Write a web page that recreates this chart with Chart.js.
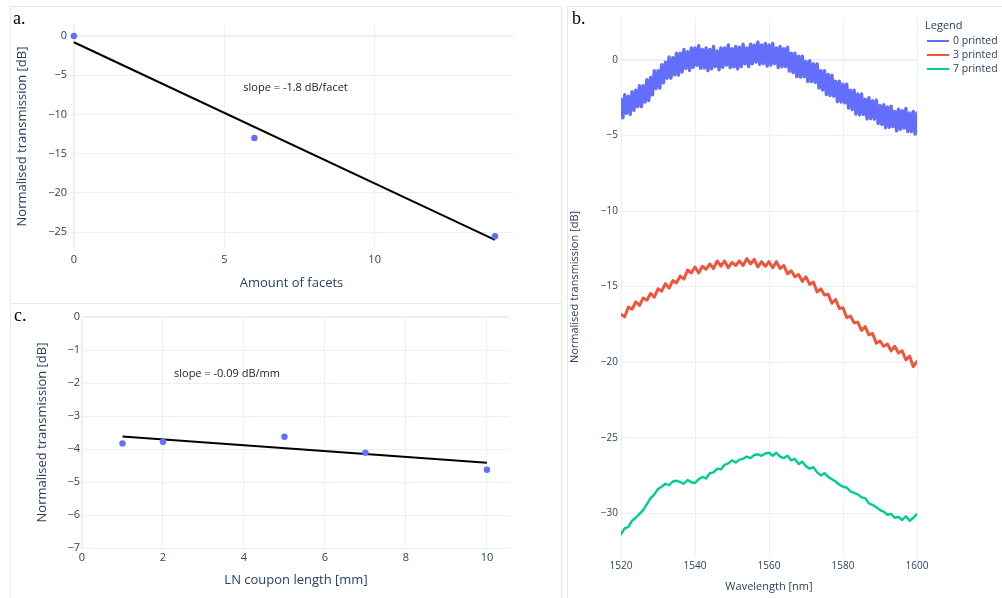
<!DOCTYPE html>
<html><head><meta charset="utf-8">
<script src="https://cdn.jsdelivr.net/npm/chart.js@4.4.0/dist/chart.umd.min.js"></script>
<style>
html,body{margin:0;padding:0;background:#fff;width:1002px;height:598px;overflow:hidden;}
.frame{position:absolute;border:1px solid #e8e8e8;box-sizing:border-box;}
.pl{position:absolute;font-family:"Liberation Serif","Times New Roman",serif;font-size:18px;color:#000;line-height:1;}
canvas{position:absolute;}
</style></head><body>
<div class="frame" style="left:10px;top:6px;width:552px;height:298px"></div>
<div class="frame" style="left:10px;top:303px;width:552px;height:300px"></div>
<div class="frame" style="left:567px;top:6px;width:440px;height:600px"></div>
<canvas id="ca" width="560" height="300" style="left:0;top:0"></canvas>
<canvas id="cc" width="560" height="298" style="left:0;top:300px"></canvas>
<canvas id="cb" width="435" height="598" style="left:567px;top:0"></canvas>
<div class="pl" style="left:13px;top:9px">a.</div>
<div class="pl" style="left:14px;top:306px">c.</div>
<div class="pl" style="left:572px;top:9px">b.</div>
<script>
// ---------- Panel a: loss vs number of facets ----------
const facets = [0, 6, 14];
const facetLoss = [0, -13.0, -25.55];
const facetFitX = [0, 14];
const facetFitY = [-0.8, -26.0];
const facetNote = {x: 7.37, y: -6.63, text: 'slope = -1.8 dB/facet'};

// ---------- Panel c: loss vs LN coupon length ----------
const couponLength = [1, 2, 5, 7, 10];
const couponLoss = [-3.83, -3.78, -3.63, -4.11, -4.63];
const couponFitX = [1, 10];
const couponFitY = [-3.62, -4.42];
const couponNote = {x: 3.58, y: -1.73, text: 'slope = -0.09 dB/mm'};

// ---------- Panel b: spectra ----------
const seriesNames = ['0 printed', '3 printed', '7 printed'];
const wavelengthHalf = [1520,1520.5,1521,1521.5,1522,1522.5,1523,1523.5,1524,1524.5,1525,1525.5,1526,1526.5,1527,1527.5,1528,1528.5,1529,1529.5,
1530,1530.5,1531,1531.5,1532,1532.5,1533,1533.5,1534,1534.5,1535,1535.5,1536,1536.5,1537,1537.5,1538,1538.5,1539,1539.5,
1540,1540.5,1541,1541.5,1542,1542.5,1543,1543.5,1544,1544.5,1545,1545.5,1546,1546.5,1547,1547.5,1548,1548.5,1549,1549.5,
1550,1550.5,1551,1551.5,1552,1552.5,1553,1553.5,1554,1554.5,1555,1555.5,1556,1556.5,1557,1557.5,1558,1558.5,1559,1559.5,
1560,1560.5,1561,1561.5,1562,1562.5,1563,1563.5,1564,1564.5,1565,1565.5,1566,1566.5,1567,1567.5,1568,1568.5,1569,1569.5,
1570,1570.5,1571,1571.5,1572,1572.5,1573,1573.5,1574,1574.5,1575,1575.5,1576,1576.5,1577,1577.5,1578,1578.5,1579,1579.5,
1580,1580.5,1581,1581.5,1582,1582.5,1583,1583.5,1584,1584.5,1585,1585.5,1586,1586.5,1587,1587.5,1588,1588.5,1589,1589.5,
1590,1590.5,1591,1591.5,1592,1592.5,1593,1593.5,1594,1594.5,1595,1595.5,1596,1596.5,1597,1597.5,1598,1598.5,1599,1599.5,1600];
const printed0 = [-2.6,-3.83,-2.3,-3.53,-2.4,-3.6,-2.1,-3.33,-2.0,-3.08,-1.7,-3.08,-1.7,-2.78,-1.3,-2.68,-1.15,-2.3,-0.7,-1.88,
-0.7,-1.85,-0.3,-1.5,-0.15,-1.2,0.2,-1.2,0.15,-0.98,0.45,-1.0,0.45,-0.8,0.7,-0.55,0.55,-0.68,0.8,-0.48,
0.8,-0.35,0.95,-0.55,0.7,-0.53,0.8,-0.7,0.7,-0.58,0.9,-0.43,0.6,-0.65,0.8,-0.48,0.8,-0.33,1.0,-0.5,
0.75,-0.45,0.9,-0.58,0.85,-0.43,1.05,-0.25,0.8,-0.43,1.05,-0.25,1.0,-0.13,1.2,-0.28,1.0,-0.23,1.1,-0.4,
1.0,-0.33,1.1,-0.23,0.8,-0.5,0.9,-0.45,0.75,-0.43,0.85,-0.73,0.45,-0.83,0.45,-1.1,0.25,-1.13,0.25,-1.1,
-0.1,-1.43,-0.05,-1.43,-0.25,-1.48,-0.25,-1.85,-0.7,-1.98,-0.7,-2.28,-0.95,-2.35,-1.0,-2.38,-1.4,-2.75,-1.4,-2.78,
-1.6,-2.83,-1.6,-3.18,-2.0,-3.28,-2.0,-3.58,-2.25,-3.63,-2.25,-3.6,-2.6,-3.9,-2.5,-3.88,-2.7,-3.9,-2.65,-4.2,
-3.0,-4.25,-2.95,-4.48,-3.1,-4.45,-3.05,-4.4,-3.4,-4.68,-3.25,-4.58,-3.35,-4.5,-3.2,-4.73,-3.5,-4.73,-3.4,-4.9,-3.5];
const wavelength = [1520,1521,1522,1523,1524,1525,1526,1527,1528,1529,1530,1531,1532,1533,1534,1535,1536,1537,1538,1539,
1540,1541,1542,1543,1544,1545,1546,1547,1548,1549,1550,1551,1552,1553,1554,1555,1556,1557,1558,1559,
1560,1561,1562,1563,1564,1565,1566,1567,1568,1569,1570,1571,1572,1573,1574,1575,1576,1577,1578,1579,
1580,1581,1582,1583,1584,1585,1586,1587,1588,1589,1590,1591,1592,1593,1594,1595,1596,1597,1598,1599,1600];
const printed3 = [-16.85,-17.0,-16.35,-16.5,-16.0,-16.25,-15.75,-15.9,-15.45,-15.7,
-15.15,-15.3,-14.8,-15.1,-14.6,-14.75,-14.3,-14.5,-13.9,-14.1,
-13.7,-14.1,-13.65,-13.85,-13.5,-13.8,-13.3,-13.65,-13.3,-13.75,
-13.4,-13.6,-13.3,-13.6,-13.15,-13.5,-13.2,-13.7,-13.35,-13.65,
-13.35,-13.75,-13.35,-13.8,-13.6,-14.15,-13.95,-14.35,-14.2,-14.65,
-14.35,-14.85,-14.7,-15.35,-15.15,-15.55,-15.5,-16.1,-15.85,-16.45,
-16.4,-17.05,-16.95,-17.4,-17.35,-17.9,-17.65,-18.2,-18.1,-18.75,
-18.6,-18.95,-18.8,-19.25,-18.95,-19.4,-19.25,-19.85,-19.6,-20.3,-19.95];
const printed7 = [-31.4,-31.0,-30.9,-30.5,-30.3,-30.05,-29.8,-29.4,-29.0,-28.75,
-28.4,-28.25,-28.05,-28.15,-27.9,-27.85,-27.95,-28.05,-27.8,-27.95,
-28.0,-27.75,-27.6,-27.7,-27.35,-27.3,-27.05,-27.1,-26.8,-26.7,
-26.5,-26.65,-26.45,-26.4,-26.25,-26.35,-26.15,-26.1,-26.2,-26.05,
-26.0,-26.2,-26.0,-26.25,-26.35,-26.2,-26.5,-26.4,-26.75,-26.6,
-26.9,-27.05,-26.95,-27.3,-27.5,-27.35,-27.6,-27.75,-27.9,-28.1,
-28.25,-28.3,-28.55,-28.65,-28.75,-28.95,-29.0,-29.35,-29.45,-29.6,
-29.8,-29.9,-30.1,-30.05,-30.3,-30.25,-30.45,-30.2,-30.5,-30.3,-30.05];

// ---------- common styling ----------
Chart.defaults.font.family = '"Open Sans", sans-serif';
Chart.defaults.color = '#2a3f5f';
const GRID = '#ebf0f8';
const BLUE = '#636efa', RED = '#ef553b', GREEN = '#00cc96';
const pts = (xs, ys) => xs.map((x, i) => ({x, y: ys[i]}));
const minus = v => (v < 0 ? '\u2212' : '') + Math.abs(v);

function axis(o) {
  return {
    type: 'linear', min: o.min, max: o.max,
    border: {display: false},
    grid: {color: GRID, lineWidth: c => (c.tick && c.tick.value === 0 ? 2 : 1), drawTicks: false},
    ticks: {stepSize: o.step, includeBounds: false, padding: o.tickPad, maxRotation: 0, autoSkip: false,
            font: {size: o.tickSize}, color: '#2a3f5f', callback: minus},
    title: {display: true, text: o.title, font: {size: o.titleSize}, color: '#2a3f5f',
            padding: o.titlePad},
    afterFit: s => { if (o.w !== undefined) s.width = o.w; if (o.h !== undefined) s.height = o.h; }
  };
}

function overlay(notes, legend) {
  return {
    id: 'overlay',
    afterDraw(chart) {
      const ctx = chart.ctx;
      notes.forEach(n => {
        const x = chart.scales.x.getPixelForValue(n.x), y = chart.scales.y.getPixelForValue(n.y);
        ctx.save(); ctx.font = '11px "Open Sans", sans-serif'; ctx.fillStyle = '#1e1e1e';
        ctx.textAlign = 'center'; ctx.textBaseline = 'middle'; ctx.fillText(n.text, x, y); ctx.restore();
      });
      if (legend) {
        const a = chart.chartArea;
        ctx.save();
        ctx.font = '11px "Open Sans", sans-serif'; ctx.fillStyle = '#2a3f5f';
        ctx.textAlign = 'left'; ctx.textBaseline = 'middle';
        ctx.fillText('Legend', a.right + 8, a.top + 9);
        ctx.font = '10.5px "Open Sans", sans-serif';
        chart.data.datasets.forEach((d, i) => {
          const y = a.top + 24 + i * 14;
          ctx.strokeStyle = d.borderColor; ctx.lineWidth = 2;
          ctx.beginPath(); ctx.moveTo(a.right + 10, y); ctx.lineTo(a.right + 32, y); ctx.stroke();
          ctx.fillStyle = '#2a3f5f';
          ctx.fillText(d.label, a.right + 36, y);
        });
        ctx.restore();
      }
    }
  };
}

const base = {responsive: false, animation: false, devicePixelRatio: 1,
  plugins: {legend: {display: false}, tooltip: {enabled: false}}};

// Panel a
new Chart(document.getElementById('ca'), {
  type: 'scatter',
  data: {datasets: [
    {label: 'data', data: pts(facets, facetLoss), backgroundColor: BLUE, borderColor: BLUE, pointRadius: 3.2, pointBorderWidth: 0},
    {label: 'fit', data: pts(facetFitX, facetFitY), showLine: true, borderColor: '#000', borderWidth: 2, pointRadius: 0}
  ]},
  options: Object.assign({}, base, {
    layout: {padding: {left: 10, top: 25, right: 47, bottom: 6}},
    scales: {
      x: axis({min: -0.13, max: 14.6, step: 5, tickPad: 5, tickSize: 11, title: 'Amount of facets', titleSize: 13, titlePad: {top: 0, bottom: 3}, h: 46}),
      y: axis({min: -27.04, max: 1.4, step: 5, tickPad: 3, tickSize: 11, title: 'Normalised transmission [dB]', titleSize: 13, titlePad: {top: 4, bottom: 0}, w: 60})
    }
  }),
  plugins: [overlay([facetNote], false)]
});

// Panel c
new Chart(document.getElementById('cc'), {
  type: 'scatter',
  data: {datasets: [
    {label: 'data', data: pts(couponLength, couponLoss), backgroundColor: BLUE, borderColor: BLUE, pointRadius: 3.2, pointBorderWidth: 0},
    {label: 'fit', data: pts(couponFitX, couponFitY), showLine: true, borderColor: '#000', borderWidth: 2, pointRadius: 0}
  ]},
  options: Object.assign({}, base, {
    layout: {padding: {left: 28, top: 17, right: 50, bottom: 6}},
    scales: {
      x: axis({min: 0, max: 10.57, step: 2, tickPad: 3, tickSize: 11, title: 'LN coupon length [mm]', titleSize: 13, titlePad: {top: 0, bottom: 4}, h: 44}),
      y: axis({min: -7, max: 0, step: 1, tickPad: 2, tickSize: 11, title: 'Normalised transmission [dB]', titleSize: 13, titlePad: {top: 6, bottom: 0}, w: 54})
    }
  }),
  plugins: [overlay([couponNote], false)]
});

// Panel b
const spectrumStyle = {showLine: true, pointRadius: 0, borderJoinStyle: 'round', borderCapStyle: 'round'};
new Chart(document.getElementById('cb'), {
  type: 'scatter',
  data: {datasets: [
    Object.assign({label: seriesNames[0], data: pts(wavelengthHalf, printed0), borderColor: BLUE, borderWidth: 3.4}, spectrumStyle),
    Object.assign({label: seriesNames[1], data: pts(wavelength, printed3), borderColor: RED, borderWidth: 3}, spectrumStyle),
    Object.assign({label: seriesNames[2], data: pts(wavelength, printed7), borderColor: GREEN, borderWidth: 2.4}, spectrumStyle)
  ]},
  options: Object.assign({}, base, {
    layout: {padding: {left: 0, top: 17, right: 85, bottom: 2}},
    scales: {
      x: axis({min: 1520, max: 1600, step: 20, tickPad: 3, tickSize: 10, title: 'Wavelength [nm]', titleSize: 11, titlePad: {top: 0, bottom: 3}, h: 39}),
      y: axis({min: -32.9, max: 2.85, step: 5, tickPad: 3, tickSize: 10, title: 'Normalised transmission [dB]', titleSize: 11, titlePad: {top: 1, bottom: 0}, w: 54})
    }
  }),
  plugins: [overlay([], true)]
});
</script>
</body></html>
